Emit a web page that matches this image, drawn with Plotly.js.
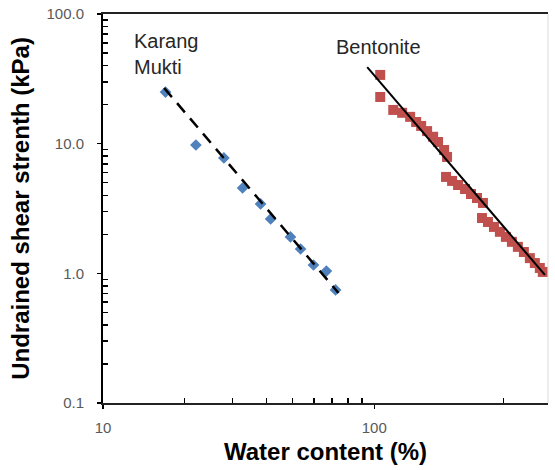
<!DOCTYPE html>
<html>
<head>
<meta charset="utf-8">
<script src="https://cdn.plot.ly/plotly-3.0.1.min.js"></script>
<style>html,body{margin:0;padding:0;background:#fff;}#chart{width:555px;height:470px;}</style>
</head>
<body>
<div id="chart"></div>
<script>
// Karang Mukti data (water content %, undrained shear strength kPa)
const karangX = [17.0, 22.0, 27.9, 32.7, 38.1, 41.5, 49.1, 53.5, 59.7, 66.6, 72.0];
const karangY = [25.0, 9.77, 7.76, 4.55, 3.43, 2.63, 1.91, 1.54, 1.16, 1.04, 0.745];
// Karang Mukti fitted trend line endpoints
const karangFitX = [16.8, 73.8];
const karangFitY = [26.9, 0.706];

// Bentonite data
const bentX = [105.2, 105.2, 117.5, 126.7, 135.6, 142.7, 148.9, 156.6, 164.8, 171.9, 180.9, 185.5,
               183.9, 193.6, 203.7, 216.1, 227.3, 239.2, 251.6, 249.5, 262.5, 276.2, 290.5, 305.7,
               321.7, 338.4, 356.1, 374.6, 390.8, 407.7, 418.1];
const bentY = [33.9, 22.9, 18.2, 17.3, 16.1, 14.7, 13.7, 12.5, 11.3, 10.3, 8.94, 7.90,
               5.54, 5.16, 4.80, 4.47, 4.09, 3.81, 3.49, 2.67, 2.49, 2.28, 2.09, 1.91,
               1.75, 1.60, 1.46, 1.31, 1.20, 1.10, 1.025];
// Bentonite fitted trend line endpoints
const bentFitX = [94.2, 425.6];
const bentFitY = [39.0, 0.972];

// Axis ticks
const xTickVals = [10, 100];
const xTickText = ['10', '100'];
const xMinorVals = [20, 30, 40, 50, 60, 70, 80, 90, 300];
const yTickVals = [0.1, 1, 10, 100];
const yTickText = ['0.1', '1.0', '10.0', '100.0'];
const yMinorVals = [0.2,0.3,0.4,0.5,0.6,0.7,0.8,0.9,2,3,4,5,6,7,8,9,20,30,40,50,60,70,80,90];

const traces = [
  {x: karangX, y: karangY, mode: 'markers', type: 'scatter', name: 'Karang Mukti',
   marker: {symbol: 'diamond', size: 9, color: '#4f81bd'}},
  {x: bentX, y: bentY, mode: 'markers', type: 'scatter', name: 'Bentonite',
   marker: {symbol: 'square', size: 10, color: '#c0504d'}},
  {x: karangFitX, y: karangFitY, mode: 'lines', type: 'scatter',
   line: {color: '#000', width: 2.5, dash: '12px,8px'}},
  {x: bentFitX, y: bentFitY, mode: 'lines', type: 'scatter',
   line: {color: '#000', width: 2}}
];

const fam = 'Liberation Sans, Arial, sans-serif';

const layout = {
  width: 555, height: 470,
  margin: {l: 103, r: 7, t: 14, b: 67},
  paper_bgcolor: '#fff', plot_bgcolor: '#fff',
  showlegend: false,
  font: {family: fam, color: '#595959', size: 15},
  xaxis: {
    type: 'log', range: [1, Math.log10(437)],
    tickmode: 'array', tickvals: xTickVals, ticktext: xTickText,
    ticks: 'outside', ticklen: 4, tickcolor: '#000', tickwidth: 1.5,
    ticklabelstandoff: 6,
    minor: {tickmode: 'array', tickvals: xMinorVals, ticks: 'inside', ticklen: 5, tickwidth: 1.5, tickcolor: '#000', showgrid: false},
    showgrid: false, zeroline: false,
    showline: true, linecolor: '#222', linewidth: 2, mirror: true,
    tickfont: {family: fam, size: 15, color: '#595959'},
    title: {text: '<b>Water content (%)</b>', font: {family: fam, size: 24, color: '#000'}, standoff: 8}
  },
  yaxis: {
    type: 'log', range: [-1, 2],
    tickmode: 'array', tickvals: yTickVals, ticktext: yTickText,
    ticks: 'outside', ticklen: 4, tickcolor: '#000', tickwidth: 1.5,
    ticklabelstandoff: 10,
    minor: {tickmode: 'array', tickvals: yMinorVals, ticks: 'inside', ticklen: 5, tickwidth: 1.5, tickcolor: '#000', showgrid: false},
    showgrid: false, zeroline: false,
    showline: true, linecolor: '#000', linewidth: 2,
    tickfont: {family: fam, size: 15, color: '#595959'},
    title: {text: '<b>Undrained shear strenth (kPa)</b>', font: {family: fam, size: 24, color: '#000'}, standoff: 10}
  },
  shapes: [
    {type: 'line', xref: 'paper', yref: 'paper', x0: 1, x1: 1, y0: 0, y1: 1,
     line: {color: '#d9d9d9', width: 1}}
  ],
  annotations: [
    {text: 'Karang<br>Mukti', xref: 'paper', yref: 'paper', x: (132-103)/445, y: 1 - (28-14)/389,
     xanchor: 'left', yanchor: 'top', align: 'left', showarrow: false,
     font: {family: fam, size: 20, color: '#262626'}},
    {text: 'Bentonite', xref: 'paper', yref: 'paper', x: (334-103)/445, y: 1 - (34-14)/389,
     xanchor: 'left', yanchor: 'top', align: 'left', showarrow: false,
     font: {family: fam, size: 20, color: '#262626'}}
  ]
};

Plotly.newPlot('chart', traces, layout, {displayModeBar: false, staticPlot: true});
</script>
</body>
</html>
